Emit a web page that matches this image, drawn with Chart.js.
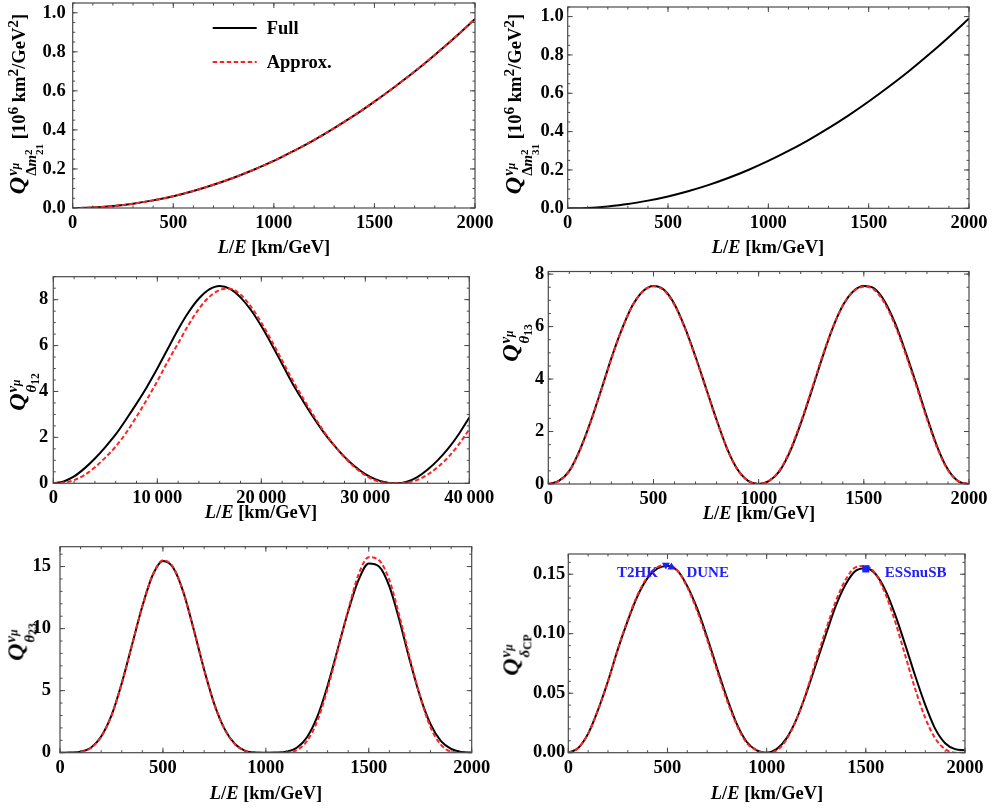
<!DOCTYPE html>
<html>
<head>
<meta charset="utf-8">
<script src="https://cdn.jsdelivr.net/npm/chart.js@4.4.0/dist/chart.umd.min.js"></script>
<style>
  html, body { margin: 0; padding: 0; background: #fff; overflow: hidden; }
  body { width: 995px; height: 810px; position: relative; font-family: "Liberation Serif", "Times New Roman", serif; font-weight: bold; }
  canvas { position: absolute; }
  .t { position: absolute; white-space: nowrap; font-size: 18.5px; color: #000; line-height: 1; }
  .xt { transform: translate(-50%, -50%); }
  .yt { transform: translate(-50%, -50%) rotate(-90deg); }
  .qq { font-size: 24px; }
  .st { display: inline-flex; flex-direction: column; font-size: 62%; line-height: 1.25; vertical-align: 0.55em; margin-left: 1px; }
  .st sub { font-size: 78%; vertical-align: -0.2em; line-height: 0; }
  .st2 { display: inline-flex; flex-direction: column; font-size: 75%; line-height: 1.0; vertical-align: 0.35em; }
</style>
</head>
<body>
<script>
// ---- data ----
const seriesNames = ['Full', 'Approx.'];

// L/E grids (km/GeV)
const leStep100 = [0,100,200,300,400,500,600,700,800,900,1000,1100,1200,1300,1400,1500,1600,1700,1800,1900,2000];
const leStep50 = [0,50,100,150,200,250,300,350,400,450,500,550,600,650,700,750,800,850,900,950,1000,
  1050,1100,1150,1200,1250,1300,1350,1400,1450,1500,1550,1600,1650,1700,1750,1800,1850,1900,1950,2000];
const leLong = [0,1000,2000,3000,4000,5000,6000,7000,8000,9000,10000,11000,12000,13000,14000,15000,16000,17000,18000,19000,20000,
  21000,22000,23000,24000,25000,26000,27000,28000,29000,30000,31000,32000,33000,34000,35000,36000,37000,38000,39000,40000];

// Q for Δm²21 and Δm²31 [10^6 km²/GeV²]
const dm21Full   = [0,0.002,0.010,0.022,0.039,0.060,0.087,0.119,0.155,0.196,0.241,0.293,0.348,0.409,0.474,0.545,0.620,0.699,0.784,0.873,0.968];
const dm21Approx = [0,0.002,0.010,0.022,0.039,0.061,0.087,0.119,0.155,0.196,0.242,0.293,0.349,0.409,0.475,0.545,0.620,0.700,0.784,0.874,0.969];
const dm31Full   = [0,0.002,0.010,0.022,0.040,0.062,0.089,0.121,0.158,0.200,0.247,0.299,0.356,0.418,0.485,0.557,0.634,0.715,0.802,0.894,0.990];

// Q for θ12 (long L/E)
const th12Full   = [0,0.08,0.3,0.65,1.08,1.58,2.13,2.78,3.47,4.2,5.0,5.85,6.7,7.45,8.05,8.45,8.6,8.47,8.1,7.55,6.85,
  6.05,5.2,4.35,3.6,2.88,2.22,1.65,1.15,0.73,0.4,0.17,0.04,0,0.07,0.27,0.6,1.02,1.53,2.15,2.87];
const th12Approx = [0,0.03,0.14,0.36,0.7,1.12,1.6,2.2,2.9,3.65,4.45,5.3,6.1,6.9,7.6,8.12,8.42,8.48,8.22,7.7,7.0,
  6.2,5.35,4.5,3.72,2.97,2.27,1.66,1.13,0.69,0.35,0.12,0.02,0,0.03,0.15,0.38,0.72,1.15,1.7,2.35];

// Q for θ13
const th13Full   = [0,0.12,0.5,1.3,2.35,3.55,4.8,5.9,6.8,7.35,7.55,7.4,6.85,5.95,4.85,3.65,2.45,1.35,0.55,0.12,0,
  0.12,0.5,1.25,2.3,3.5,4.75,5.9,6.8,7.35,7.55,7.45,6.95,6.1,5.0,3.8,2.55,1.4,0.55,0.1,0];
const th13Approx = [0,0.11,0.49,1.28,2.33,3.54,4.79,5.9,6.8,7.35,7.54,7.38,6.82,5.92,4.82,3.62,2.42,1.33,0.54,0.12,0,
  0.13,0.53,1.3,2.36,3.56,4.8,5.92,6.8,7.33,7.52,7.4,6.88,6.02,4.92,3.72,2.48,1.35,0.52,0.1,0];

// Q for θ23
const th23Full   = [0,0.01,0.08,0.4,1.3,3.0,5.6,8.7,11.8,14.3,15.45,14.9,12.9,9.9,6.7,3.9,1.9,0.7,0.15,0.02,0,
  0.01,0.08,0.4,1.25,2.9,5.4,8.4,11.4,13.9,15.25,15.0,13.4,10.6,7.4,4.5,2.3,0.95,0.3,0.06,0.01];
const th23Approx = [0,0.01,0.07,0.38,1.28,2.98,5.58,8.7,11.8,14.3,15.5,14.95,12.9,9.9,6.7,3.88,1.88,0.68,0.14,0.02,0,
  0,0.02,0.2,0.95,2.55,5.15,8.3,11.5,14.35,15.75,15.5,13.9,10.95,7.6,4.5,2.05,0.65,0.08,0,0];

// Q for δCP
const dcpFull   = [0,0.004,0.016,0.036,0.060,0.087,0.111,0.132,0.147,0.155,0.157,0.153,0.140,0.121,0.097,0.071,0.046,0.024,0.009,0.002,0,
  0.003,0.012,0.028,0.050,0.075,0.100,0.124,0.142,0.153,0.155,0.150,0.136,0.115,0.090,0.064,0.040,0.020,0.008,0.003,0.002];
const dcpApprox = [0,0.004,0.016,0.036,0.060,0.087,0.112,0.133,0.148,0.156,0.158,0.153,0.139,0.119,0.095,0.069,0.044,0.023,0.008,0.002,0,
  0.002,0.011,0.028,0.051,0.078,0.104,0.128,0.146,0.156,0.157,0.150,0.133,0.109,0.081,0.053,0.029,0.012,0.003,0,0];

// experiments marked on the δCP panel
const expNames = ['T2HK', 'DUNE', 'ESSnuSB'];
const expLE    = [492, 520, 1500];
const expQ     = [0.1578, 0.1560, 0.1545];

// tick labels
const xTicks2000  = [0, 500, 1000, 1500, 2000];
const xTicks40000 = [0, 10000, 20000, 30000, 40000];
const yTicksDm    = [0, 0.2, 0.4, 0.6, 0.8, 1.0];
const yTicksTh12  = [0, 2, 4, 6, 8];
const yTicksTh13  = [0, 2, 4, 6, 8];
const yTicksTh23  = [0, 5, 10, 15];
const yTicksDcp   = [0, 0.05, 0.10, 0.15];

// ---- helpers ----
const RED = '#ff2222';
const BLUE = '#1e1eff';
const DASH = [4.5, 2.5];

function pts(xs, ys) {
  return xs.map((x, i) => ({ x: x, y: ys[i] }));
}

function fullSet(xs, ys) {
  return { data: pts(xs, ys), borderColor: '#000', borderWidth: 2, order: 2, cubicInterpolationMode: 'monotone', pointRadius: 0 };
}
function approxSet(xs, ys) {
  return { data: pts(xs, ys), borderColor: RED, borderWidth: 2, borderDash: DASH, order: 1, cubicInterpolationMode: 'monotone', pointRadius: 0 };
}

// Mathematica-like frame with inward ticks on all four sides
const framePlugin = {
  id: 'frame',
  afterDatasetsDraw(chart, args, opts) {
    const { ctx, chartArea: a, scales } = chart;
    ctx.save();
    ctx.strokeStyle = '#4a4a4a';
    ctx.lineWidth = 1.2;
    ctx.strokeRect(a.left, a.top, a.right - a.left, a.bottom - a.top);

    const drawX = (v, len) => {
      const px = scales.x.getPixelForValue(v);
      ctx.beginPath();
      ctx.moveTo(px, a.bottom); ctx.lineTo(px, a.bottom - len);
      ctx.moveTo(px, a.top); ctx.lineTo(px, a.top + len);
      ctx.stroke();
    };
    const drawY = (v, len) => {
      const py = scales.y.getPixelForValue(v);
      ctx.beginPath();
      ctx.moveTo(a.left, py); ctx.lineTo(a.left + len, py);
      ctx.moveTo(a.right, py); ctx.lineTo(a.right - len, py);
      ctx.stroke();
    };
    ctx.lineWidth = 1;
    const xs = scales.x, ys = scales.y;
    for (let v = xs.min; v <= xs.max + 1e-9; v += opts.xMinor) drawX(v, 2.5);
    for (let v = ys.min; v <= ys.max + 1e-9; v += opts.yMinor) drawY(v, 2.5);
    xs.ticks.forEach(t => drawX(t.value, 5));
    ys.ticks.forEach(t => drawY(t.value, 5));
    ctx.restore();
  }
};

// legend (top-left panel) and experiment labels (δCP panel)
const extrasPlugin = {
  id: 'extras',
  afterDraw(chart, args, opts) {
    const { ctx, chartArea: a } = chart;
    ctx.save();
    ctx.font = 'bold 18.5px "Liberation Serif", serif';
    ctx.textBaseline = 'middle';
    if (opts.legend) {
      const rows = [{ color: '#000', dash: [] }, { color: RED, dash: DASH }];
      rows.forEach((r, i) => {
        const y = a.top + 25 + i * 34;
        ctx.strokeStyle = r.color;
        ctx.lineWidth = 2;
        ctx.setLineDash(r.dash);
        ctx.beginPath();
        ctx.moveTo(a.left + 140, y);
        ctx.lineTo(a.left + 184, y);
        ctx.stroke();
        ctx.setLineDash([]);
        ctx.fillStyle = '#000';
        ctx.textAlign = 'left';
        ctx.fillText(seriesNames[i], a.left + 194, y + 1);
      });
    }
    if (opts.markers) {
      const meta = chart.getDatasetMeta(2);
      const offs = [{ dx: -8, dy: 8, al: 'right' }, { dx: 15, dy: 6, al: 'left' }, { dx: 19, dy: 4, al: 'left' }];
      ctx.font = 'bold 15px "Liberation Serif", serif';
      ctx.fillStyle = BLUE;
      expNames.forEach((n, i) => {
        const p = meta.data[i];
        ctx.textAlign = offs[i].al;
        ctx.fillText(n, p.x + offs[i].dx, p.y + offs[i].dy);
      });
    }
    ctx.restore();
  }
};

const tickFont = { family: '"Liberation Serif", serif', size: 18.5, weight: 'bold' };

function makePanel(p) {
  const cv = document.createElement('canvas');
  cv.width = p.cell[2];
  cv.height = p.cell[3];
  cv.style.left = p.cell[0] + 'px';
  cv.style.top = p.cell[1] + 'px';
  document.body.appendChild(cv);

  const padL = p.plot[0] - p.cell[0];
  const padT = p.plot[1] - p.cell[1];
  const padR = p.cell[0] + p.cell[2] - p.plot[2];
  const padB = p.cell[1] + p.cell[3] - p.plot[3];

  new Chart(cv, {
    type: 'line',
    data: { datasets: p.datasets },
    options: {
      responsive: false,
      animation: false,
      devicePixelRatio: 1,
      layout: { padding: { left: 0, top: padT, right: padR, bottom: 0 } },
      plugins: {
        legend: { display: false },
        tooltip: { enabled: false },
        frame: { xMinor: p.xMinor, yMinor: p.yMinor },
        extras: p.extras || {}
      },
      scales: {
        x: {
          type: 'linear', min: p.xRange[0], max: p.xRange[1],
          afterBuildTicks: s => { s.ticks = p.xTicks.map(v => ({ value: v })); },
          afterFit: s => { s.height = padB; s.paddingLeft = 0; s.paddingRight = 0; },
          grid: { display: false, drawTicks: false },
          border: { display: false },
          ticks: { autoSkip: false, maxRotation: 0, padding: 4, color: '#000', font: tickFont, callback: p.xFmt }
        },
        y: {
          type: 'linear', min: p.yRange[0], max: p.yRange[1],
          afterBuildTicks: s => { s.ticks = p.yTicks.map(v => ({ value: v })); },
          afterFit: s => { s.width = padL; s.paddingTop = 0; s.paddingBottom = 0; },
          grid: { display: false, drawTicks: false },
          border: { display: false },
          ticks: { autoSkip: false, padding: p.yPad, color: '#000', font: tickFont, callback: p.yFmt }
        }
      }
    },
    plugins: [framePlugin, extrasPlugin]
  });
}

const fmtInt = v => String(v);
const fmtThousands = v => v === 0 ? '0' : (v / 1000) + '\u2009000';
const fmt1 = v => v.toFixed(1);
const fmt2 = v => v.toFixed(2);

const panels = [
  { cell: [0, 0, 495, 262], plot: [72.7, 3, 475, 208], xRange: [0, 2000], yRange: [0, 1.05],
    xTicks: xTicks2000, yTicks: yTicksDm, xMinor: 100, yMinor: 0.05, xFmt: fmtInt, yFmt: fmt1, yPad: 7,
    datasets: [fullSet(leStep100, dm21Full), approxSet(leStep100, dm21Approx)], extras: { legend: true } },
  { cell: [495, 0, 500, 262], plot: [567.7, 7, 969, 208.3], xRange: [0, 2000], yRange: [0, 1.05],
    xTicks: xTicks2000, yTicks: yTicksDm, xMinor: 100, yMinor: 0.05, xFmt: fmtInt, yFmt: fmt1, yPad: 4,
    datasets: [fullSet(leStep100, dm31Full)] },
  { cell: [0, 262, 495, 268], plot: [53.3, 276.7, 469.3, 483.3], xRange: [0, 40000], yRange: [0, 9],
    xTicks: xTicks40000, yTicks: yTicksTh12, xMinor: 2000, yMinor: 0.5, xFmt: fmtThousands, yFmt: fmtInt, yPad: 5,
    datasets: [fullSet(leLong, th12Full), approxSet(leLong, th12Approx)] },
  { cell: [495, 262, 500, 268], plot: [548.3, 271.5, 969, 484], xRange: [0, 2000], yRange: [0, 8.1],
    xTicks: xTicks2000, yTicks: yTicksTh13, xMinor: 100, yMinor: 0.5, xFmt: fmtInt, yFmt: fmtInt, yPad: 4,
    datasets: [fullSet(leStep50, th13Full), approxSet(leStep50, th13Approx)] },
  { cell: [0, 530, 495, 280], plot: [60, 546.7, 471.7, 752.7], xRange: [0, 2000], yRange: [0, 16.6],
    xTicks: xTicks2000, yTicks: yTicksTh23, xMinor: 100, yMinor: 1, xFmt: fmtInt, yFmt: fmtInt, yPad: 9,
    datasets: [fullSet(leStep50, th23Full), approxSet(leStep50, th23Approx)] },
  { cell: [495, 530, 500, 280], plot: [568.3, 554, 965, 752.7], xRange: [0, 2000], yRange: [0, 0.167],
    xTicks: xTicks2000, yTicks: yTicksDcp, xMinor: 100, yMinor: 0.01, xFmt: fmtInt, yFmt: fmt2, yPad: 3,
    datasets: [fullSet(leStep50, dcpFull), approxSet(leStep50, dcpApprox),
      { data: pts(expLE, expQ), showLine: false, order: 0,
        pointStyle: ['triangle', 'triangle', 'rect'], pointRotation: [180, 0, 0], pointRadius: [4.6, 4.6, 5],
        backgroundColor: BLUE, borderColor: BLUE, borderWidth: 0 }],
    extras: { markers: true } }
];

panels.forEach(makePanel);

// ---- axis titles ----
const xTitle = '<i>L</i>/<i>E</i> [km/GeV]';
const nuMu = '<i>&nu;</i><sub><i>&mu;</i></sub>';
function qLabel(lower) {
  return '<span class="qq"><i>Q</i><span class="st"><span>' + nuMu + '</span><span>' + lower + '</span></span></span>';
}
const dmLabel = n => '&Delta;<i>m</i><span class="st2"><span>2</span><span>' + n + '</span></span>';
const titles = [
  { x: 274, y: 247, cls: 'xt', html: xTitle },
  { x: 768, y: 247, cls: 'xt', html: xTitle },
  { x: 261, y: 512, cls: 'xt', html: xTitle },
  { x: 759, y: 513, cls: 'xt', html: xTitle },
  { x: 266, y: 793, cls: 'xt', html: xTitle },
  { x: 767, y: 793, cls: 'xt', html: xTitle },
  { x: 24, y: 104, cls: 'yt', html: qLabel(dmLabel('21')) + ' [10<sup>6</sup> km<sup>2</sup>/GeV<sup>2</sup>]' },
  { x: 520, y: 104, cls: 'yt', html: qLabel(dmLabel('31')) + ' [10<sup>6</sup> km<sup>2</sup>/GeV<sup>2</sup>]' },
  { x: 22, y: 392, cls: 'yt', html: qLabel('<i>&theta;</i><sub>12</sub>') },
  { x: 515, y: 343, cls: 'yt', html: qLabel('<i>&theta;</i><sub>13</sub>') },
  { x: 20, y: 642, cls: 'yt', html: qLabel('<i>&theta;</i><sub>23</sub>') },
  { x: 515, y: 655, cls: 'yt', html: qLabel('<i>&delta;</i><sub>CP</sub>') }
];
titles.forEach(t => {
  const d = document.createElement('div');
  d.className = 't ' + t.cls;
  d.style.left = t.x + 'px';
  d.style.top = t.y + 'px';
  d.innerHTML = t.html;
  document.body.appendChild(d);
});
</script>
</body>
</html>
